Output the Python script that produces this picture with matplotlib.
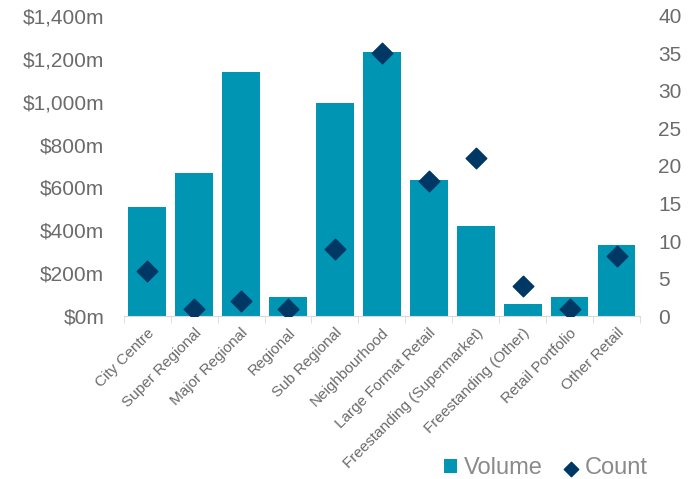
import numpy as np
import matplotlib.pyplot as plt
from matplotlib.ticker import FuncFormatter, MultipleLocator

plt.rcParams['font.family'] = ['Liberation Sans', 'DejaVu Sans']

categories = ['City Centre', 'Super Regional', 'Major Regional', 'Regional',
              'Sub Regional', 'Neighbourhood', 'Large Format Retail',
              'Freestanding (Supermarket)', 'Freestanding (Other)',
              'Retail Portfolio', 'Other Retail']
volume = [510, 665, 1140, 90, 995, 1230, 635, 420, 56, 89, 331]  # $m
count = [6, 1, 2, 1, 9, 35, 18, 21, 4, 1, 8]

bar_col = '#0095b3'
mark_col = '#003865'
txt_col = '#6b6b6b'
grid_col = '#d9d9d9'

x = np.arange(len(categories))

fig = plt.figure(figsize=(6.95, 4.79), dpi=100)
ax = fig.add_axes([0.178, 0.340, 0.743, 0.627])
ax2 = ax.twinx()

ax.bar(x, volume, width=0.8, color=bar_col, label='Volume', zorder=2)
ax2.scatter(x, count, marker='D', s=110, color=mark_col, label='Count', zorder=3)

ax.set_xlim(-0.5, len(categories) - 0.5)
ax.set_ylim(0, 1400)
ax2.set_ylim(0, 40)
ax.yaxis.set_major_locator(MultipleLocator(200))
ax2.yaxis.set_major_locator(MultipleLocator(5))
ax.yaxis.set_major_formatter(FuncFormatter(lambda v, p: '${:,.0f}m'.format(v)))

for a in (ax, ax2):
    for s in a.spines.values():
        s.set_visible(False)
    a.tick_params(axis='y', length=0, labelsize=15, labelcolor=txt_col)
ax.tick_params(axis='y', pad=14)
ax2.tick_params(axis='y', pad=13)

ax.spines['bottom'].set_visible(True)
ax.spines['bottom'].set_color(grid_col)
ax.set_xticks(x)
ax.set_xticklabels(categories, rotation=45, ha='right', rotation_mode='anchor',
                   fontsize=11, color=txt_col)
ax.set_xticks(np.arange(-0.5, len(categories)), minor=True)
ax.tick_params(axis='x', which='major', length=0, pad=7)
ax.tick_params(axis='x', which='minor', length=5, color=grid_col)

h1, l1 = ax.get_legend_handles_labels()
h2, l2 = ax2.get_legend_handles_labels()
fig.legend(h1 + h2, l1 + l2, loc='lower right', bbox_to_anchor=(0.962, -0.045),
           ncol=2, frameon=False, fontsize=17, labelcolor='#8a8a8a',
           handlelength=0.55, handleheight=0.55, handletextpad=0.3, columnspacing=0.9,
           markerscale=0.7)

fig.savefig('out.png', dpi=100)
